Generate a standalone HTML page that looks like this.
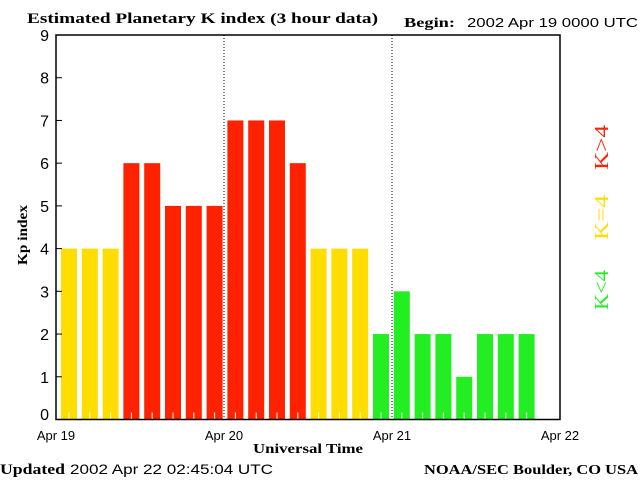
<!DOCTYPE html>
<html><head><meta charset="utf-8"><style>
body{margin:0;background:#fff;width:640px;height:480px;overflow:hidden}
svg{display:block}
</style></head><body>
<svg width="640" height="480" id="c">
<text x="27" y="23" textLength="351" lengthAdjust="spacingAndGlyphs" font-family="Liberation Serif, serif" font-weight="bold" font-size="15">Estimated Planetary K index (3 hour data)</text>
<text x="404" y="27" textLength="51" lengthAdjust="spacingAndGlyphs" font-family="Liberation Serif, serif" font-weight="bold" font-size="14">Begin:</text>
<text x="467" y="27" textLength="171" lengthAdjust="spacingAndGlyphs" font-family="Liberation Sans, sans-serif" font-size="13">2002 Apr 19 0000 UTC</text>
<text x="0" y="474" textLength="65" lengthAdjust="spacingAndGlyphs" font-family="Liberation Serif, serif" font-weight="bold" font-size="15">Updated</text>
<text x="70" y="474" textLength="203" lengthAdjust="spacingAndGlyphs" font-family="Liberation Sans, sans-serif" font-size="14">2002 Apr 22 02:45:04 UTC</text>
<text x="424" y="474" textLength="214" lengthAdjust="spacingAndGlyphs" font-family="Liberation Serif, serif" font-weight="bold" font-size="14">NOAA/SEC Boulder, CO USA</text>
<text x="253" y="453" textLength="110" lengthAdjust="spacingAndGlyphs" font-family="Liberation Serif, serif" font-weight="bold" font-size="14">Universal Time</text>
<text transform="translate(27,265) rotate(-90)" textLength="60" lengthAdjust="spacingAndGlyphs" font-family="Liberation Serif, serif" font-weight="bold" font-size="14">Kp index</text>
<text transform="translate(608,310) rotate(-90)" textLength="40" lengthAdjust="spacingAndGlyphs" fill="#22ee22" font-family="Liberation Serif, serif" font-size="20">K&lt;4</text>
<text transform="translate(608,240) rotate(-90)" textLength="45" lengthAdjust="spacingAndGlyphs" fill="#ffdd00" font-family="Liberation Serif, serif" font-size="20">K=4</text>
<text transform="translate(608,170) rotate(-90)" textLength="45" lengthAdjust="spacingAndGlyphs" fill="#ff2200" font-family="Liberation Serif, serif" font-size="20">K&gt;4</text>
<g id="plot"></g>
</svg>
<script>
const kpValues=[4,4,4,6,6,5,5,5,7,7,7,6,4,4,4,2,3,2,2,1,2,2,2];
const yTicks=[0,1,2,3,4,5,6,7,8,9];
const dayLabels=["Apr 19","Apr 20","Apr 21","Apr 22"];
const NS="http://www.w3.org/2000/svg";
const X0=56,X1=560,Y0=419.5,Y9=35;
const slot=(X1-X0)/24;
const barStep=20.8;
const bx=i=>61+i*barStep;
const y=v=>Y0-(Y0-Y9)*v/9;
const g=document.getElementById('plot');
function mk(t,a){const e=document.createElementNS(NS,t);for(const k in a)e.setAttribute(k,a[k]);g.appendChild(e);return e;}
function col(v){return v<4?'#22ee22':(v===4?'#ffdd00':'#ff2200');}
kpValues.forEach((v,i)=>{
 const r=mk('rect',{x:bx(i),y:y(v),width:16,height:Y0-y(v),fill:col(v)});
 
 
 const t=mk('line',{x1:bx(i)+8,x2:bx(i)+8,y1:Y0-7,y2:Y0,stroke:'#fff','stroke-width':1});
 
 
});
[1,2].forEach(d=>{
 const l=mk('line',{x1:X0+d*8*slot,x2:X0+d*8*slot,y1:Y9,y2:Y0,stroke:'#000','stroke-dasharray':'1,2'});
 
 
});
const fr=mk('rect',{x:X0,y:Y9,width:X1-X0,height:Y0-Y9,fill:'none',stroke:'#000','stroke-width':1.5});


yTicks.forEach(v=>{
 const tk=mk('line',{x1:X0,x2:X0+6,y1:y(v),y2:y(v),stroke:'#000'});
 
 
 const t=mk('text',{x:49,y:Math.min(y(v),414)+6,'text-anchor':'end','font-family':'Liberation Sans, sans-serif','font-size':'16'});
 t.textContent=v;
 
 
});
dayLabels.forEach((d,i)=>{
 const t=mk('text',{x:X0+i*8*slot,y:440,'text-anchor':'middle','font-family':'Liberation Sans, sans-serif','font-size':'13'});
 t.textContent=d;
 
 
});
</script>
</body></html>
